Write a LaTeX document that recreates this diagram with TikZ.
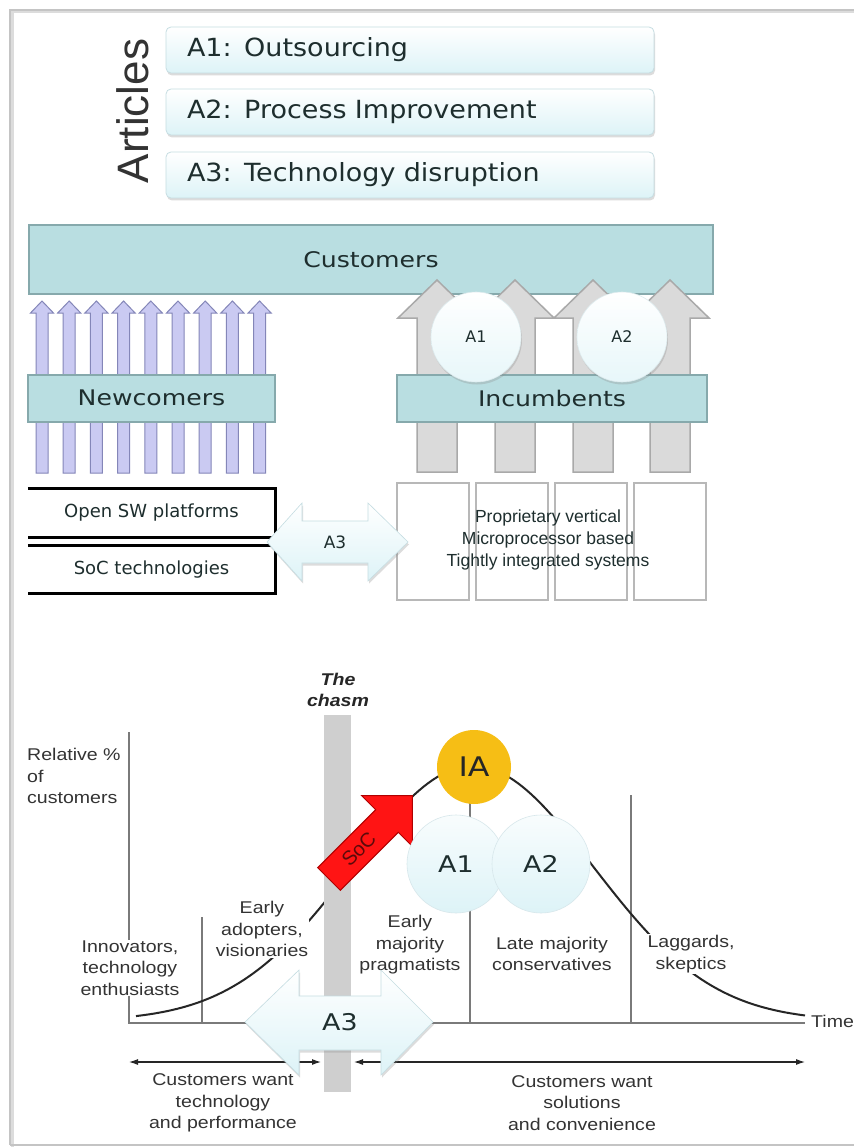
\documentclass[tikz,border=0pt]{standalone}
\usepackage{fontspec}
\usetikzlibrary{shadows,arrows.meta}
\setmainfont{Liberation Sans}
\newfontfamily\djst{DejaVu Sans}[FakeStretch=1.17]
\newfontfamily\djart{DejaVu Sans}[FakeStretch=1.08]
\newfontfamily\djs{DejaVu Sans}
\newfontfamily\lib{Liberation Sans}
\newfontfamily\libst{Liberation Sans}[FakeStretch=1.15]
\newcommand\fsz[2]{\fontsize{#1}{#2}\selectfont}
\definecolor{tealbox}{HTML}{B9DEE1}
\definecolor{tealedge}{HTML}{86A9AC}
\definecolor{grayfill}{HTML}{DADADA}
\definecolor{grayedge}{HTML}{A9A9A9}
\definecolor{purpfill}{HTML}{CACAF2}
\definecolor{purpedge}{HTML}{8486B8}
\definecolor{boxedge}{HTML}{B8B8B8}
\definecolor{cyanlt}{HTML}{DDF3F7}
\definecolor{cyanedge}{HTML}{C6DDE2}
\definecolor{txtdark}{HTML}{1E2E2E}
\definecolor{charttxt}{HTML}{333333}
\definecolor{axisc}{HTML}{7A7A7A}
\definecolor{chasmc}{HTML}{CFCFCF}
\definecolor{iafill}{HTML}{F6BE15}
\definecolor{socred}{HTML}{FF1414}
\definecolor{socedge}{HTML}{B00000}
\definecolor{soctxt}{HTML}{5C0A0A}
\definecolor{framec}{HTML}{C4C4C4}
\newcommand\blkarrow[7]{%
  \path[#1] (#2-#6,#5) -- (#2-#6,#4) -- (#2-#7,#4) -- (#2,#3) -- (#2+#7,#4) -- (#2+#6,#4) -- (#2+#6,#5) -- cycle;}
\tikzset{
  every node/.style={inner sep=0pt},
  softshadow/.style={drop shadow={opacity=0.3, shadow xshift=1pt, shadow yshift=-2.5pt, fill=black!45}},
  artbox/.style={rounded corners=5pt, draw=cyanedge, line width=0.8pt, top color=white, bottom color=cyanlt,
    minimum width=488pt, minimum height=46pt, inner xsep=21pt, text width=446pt, align=left,
    font=\djart\fsz{25}{30}, text=txtdark, softshadow},
  tealrect/.style={draw=tealedge, fill=tealbox, line width=2pt, font=\djst\fsz{21.5}{26}, text=txtdark},
  grayarr/.style={fill=grayfill, draw=grayedge, line width=1.5pt, line join=miter},
  purparr/.style={fill=purpfill, draw=purpedge, line width=1pt},
  smallcirc/.style={circle, minimum size=90pt, draw=cyanedge!60, line width=0.6pt, top color=white, bottom color=cyanlt!70,
    font=\djs\fsz{16}{19}, text=txtdark, softshadow},
  techbox/.style={minimum width=247pt, font=\djs\fsz{18}{22}, text=txtdark},
  propbox/.style={draw=boxedge, line width=2pt, fill=white, minimum width=72pt, minimum height=117pt},
  dblarrow/.style={fill=cyanlt!60, draw=cyanedge, line width=0.6pt, top color=white, bottom color=cyanlt, softshadow},
  lbl/.style={font=\libst\fsz{17}{21.5}, text=charttxt, align=center, fill=white, inner sep=1pt},
  axis/.style={draw=axisc, line width=1.1pt},
  bigcirc/.style={circle, minimum size=98pt, draw=cyanedge!70, line width=0.6pt, top color=white!80!cyanlt, bottom color=cyanlt,
    font=\djst\fsz{23}{27}, text=txtdark},
  timearr/.style={draw=black!85, line width=1.1pt, {Latex[length=9pt,width=6pt]}-{Latex[length=9pt,width=6pt]}}
}
\begin{document}
\begin{tikzpicture}[x=1pt,y=-1pt]
\useasboundingbox (0,0) rectangle (853,1147);
\fill[white] (0,0) rectangle (853,1147);
% frame
\draw[framec!60, line width=3pt] (12,1147) -- (12,12) -- (860,12);
\draw[framec, line width=1.4pt] (10,1145) -- (10,10) -- (860,10);
\draw[framec, line width=1.4pt] (10,1145) -- (860,1145);

% Articles
\node[rotate=90, font=\lib\fsz{44}{50}, text=black!80] (articles) at (133,111) {Articles};
\node[artbox] (art1) at (410,50) {A1: Outsourcing};
\node[artbox] (art2) at (410,112) {A2: Process Improvement};
\node[artbox] (art3) at (410,175) {A3: Technology disruption};

% Customers
\node[tealrect, minimum width=684pt, minimum height=69pt] (cust) at (371,259.5) {Customers};

% purple arrows (newcomers)
\foreach \i in {0,...,8}{%
  \pgfmathsetmacro\cx{42+27.2*\i}
  \blkarrow{purparr}{\cx}{301}{313}{473}{6}{11.5}}
\node[tealrect, minimum width=247pt, minimum height=47pt] (newc) at (151.5,398) {Newcomers};

% gray arrows (incumbents)
\foreach \c in {437,515,593,670}{%
  \blkarrow{grayarr}{\c}{280}{318}{472}{20}{39}}
\node[tealrect, minimum width=310pt, minimum height=47pt] (incb) at (552,398) {Incumbents};
\node[smallcirc] (c1) at (476,337) {A1};
\node[smallcirc] (c2) at (622,337) {A2};

% technology boxes
\node[techbox, minimum height=48pt] (osw) at (151.5,513) {Open SW platforms};
\node[techbox, minimum height=47pt] (soct) at (151.5,569.5) {SoC technologies};
\draw[line width=3pt, line join=miter] (osw.north west) -| (osw.south east) -- (osw.south west);
\draw[line width=3pt, line join=miter] (soct.north west) -| (soct.south east) -- (soct.south west);

% proprietary boxes
\node[propbox] (p1) at (433,541.5) {};
\node[propbox] (p2) at (511.5,541.5) {};
\node[propbox] (p3) at (590.5,541.5) {};
\node[propbox] (p4) at (669.5,541.5) {};
\node[font=\lib\fsz{17.5}{22}, text=txtdark, align=center] (prop) at (548,540) {Proprietary vertical\\Microprocessor based\\Tightly integrated systems};

% A3 top double arrow
\path[dblarrow] (267,542) -- (302,503) -- (302,521) -- (368,521) -- (368,503) -- (408,542) -- (368,581) -- (368,563) -- (302,563) -- (302,581) -- cycle;
\node[font=\djs\fsz{17}{20}, text=txtdark] (a3top) at (335,542) {A3};

% ===== chart =====
\node[font=\libst\fsz{17}{21.5}, text=charttxt, align=left, anchor=north west] (relp) at (27,748) {Relative \%\\of\\customers};
\draw[axis] (129,732) |- (805,1023);
\draw[axis] (202,917) -- (202,1023);
\draw[axis] (470,803) -- (470,1023);
\draw[axis] (631,795) -- (631,1023);
\node[font=\libst\fsz{17}{21.5}, text=charttxt, anchor=west] (time) at (811,1021) {Time};
\draw[black!85, line width=2pt] plot[domain=136:805, samples=150] (\x, {1021-255*exp(-((\x-473)/120)^2/2)});
\fill[chasmc] (324,715) rectangle (351,1092);
\node[font=\libst\bfseries\itshape\fsz{17}{21.5}, text=black!85, align=center] (chasm) at (338,690) {The\\chasm};

\node[lbl] (innov) at (130,968) {Innovators,\\technology\\enthusiasts};
\node[lbl] (early) at (262,929) {Early\\adopters,\\visionaries};
\node[lbl] (earlym) at (410,945) {Early\\majority\\pragmatists};
\node[lbl] (late) at (552,954) {Late majority\\conservatives};
\node[lbl] (lagg) at (691,954) {Laggards,\\skeptics};
\node[lbl, fill=none] (cwt) at (223,1103) {Customers want\\technology\\and performance};
\node[lbl, fill=none] (cws) at (582,1103) {Customers want\\solutions\\and convenience};

\coordinate (l1) at (129,1062);
\coordinate (l2) at (321,1062);
\coordinate (r1) at (354,1062);
\coordinate (r2) at (805,1062);
\draw[timearr] (l1) -- (l2);
\draw[timearr] (r1) -- (r2);

% A3 bottom double arrow
\path[dblarrow] (245,1022) -- (299,970) -- (299,996) -- (381,996) -- (381,970) -- (433,1022) -- (381,1075) -- (381,1050) -- (299,1050) -- (299,1075) -- cycle;
\node[font=\djst\fsz{23}{27}, text=txtdark] (a3b) at (340,1022) {A3};

% SoC arrow
\begin{scope}[shift={(329,879)}, rotate=45]
  \path[fill=socred, draw=socedge, line width=1pt, line join=miter] (0,-16) -- (82,-16) -- (82,-36) -- (118,0) -- (82,36) -- (82,16) -- (0,16) -- cycle;
  \node[rotate=45, font=\lib\fsz{20}{24}, text=soctxt] (soc) at (42,0) {SoC};
\end{scope}

% circles
\node[circle, minimum size=74pt, fill=iafill, font=\djst\fsz{27}{32}, text=black!85] (ia) at (474,767) {IA};
\node[bigcirc] (b1) at (456,864) {A1};
\node[bigcirc] (b2) at (541,864) {A2};
\end{tikzpicture}
\end{document}
